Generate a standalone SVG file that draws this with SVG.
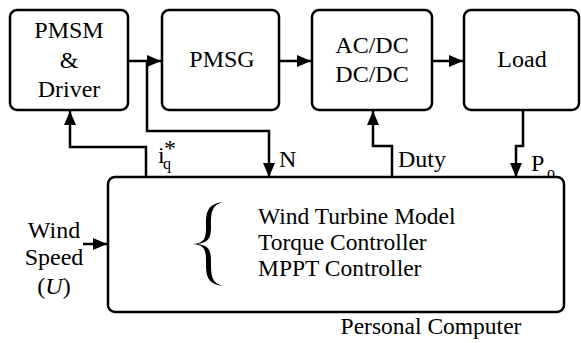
<svg xmlns="http://www.w3.org/2000/svg" width="581" height="343" viewBox="0 0 581 343">
<defs>
<marker id="ah" viewBox="0 0 14 12" refX="14" refY="6" markerWidth="14" markerHeight="12" markerUnits="userSpaceOnUse" orient="auto">
<path d="M0,0 L14,6 L0,12 Z" fill="#000"/>
</marker>
</defs>
<rect width="581" height="343" fill="#fff"/>
<g id="connectors" fill="none" stroke="#000" stroke-width="2.5">
<path d="M128,61 H161" marker-end="url(#ah)"/>
<path d="M147,61 V131 H269 V177" marker-end="url(#ah)"/>
<path d="M146,177 V147 H70 V111" marker-end="url(#ah)"/>
<path d="M279,61 H311" marker-end="url(#ah)"/>
<path d="M432,61 H463" marker-end="url(#ah)"/>
<path d="M392,177 V146 H373 V111" marker-end="url(#ah)"/>
<path d="M523,110 V146 H516 V177" marker-end="url(#ah)"/>
<path d="M83,244 H107" marker-end="url(#ah)"/>
</g>
<g id="pmsm">
<rect x="10" y="10" width="118" height="100" rx="7" fill="#fff" stroke="#000" stroke-width="2.5"/>
<text x="69" y="38" font-family="Times New Roman" font-size="24" text-anchor="middle">PMSM</text>
<text x="69" y="68" font-family="Times New Roman" font-size="24" text-anchor="middle">&amp;</text>
<text x="69" y="97" font-family="Times New Roman" font-size="24" text-anchor="middle">Driver</text>
</g>
<g id="pmsg">
<rect x="162" y="10" width="117" height="100" rx="7" fill="#fff" stroke="#000" stroke-width="2.5"/>
<text x="222" y="67" font-family="Times New Roman" font-size="24" text-anchor="middle">PMSG</text>
</g>
<g id="acdc">
<rect x="312" y="10" width="120" height="100" rx="7" fill="#fff" stroke="#000" stroke-width="2.5"/>
<text x="372" y="53" font-family="Times New Roman" font-size="24" text-anchor="middle">AC/DC</text>
<text x="372" y="82" font-family="Times New Roman" font-size="24" text-anchor="middle">DC/DC</text>
</g>
<g id="load">
<rect x="464" y="10" width="115" height="100" rx="7" fill="#fff" stroke="#000" stroke-width="2.5"/>
<text x="522" y="67" font-family="Times New Roman" font-size="24" text-anchor="middle">Load</text>
</g>
<g id="pc">
<rect x="108" y="177" width="456" height="135" rx="7" fill="#fff" stroke="#000" stroke-width="2.5"/>
<path d="M223,202 C206,204 206,214 206,226 C206,238 205,243 193,244 C205,245 206,250 206,262 C206,274 206,284 223,286 C211,283 211,274 211,262 C211,250 209,246 198,244 C209,242 211,238 211,226 C211,214 211,205 223,202 Z" fill="#000"/>
<text x="258" y="224" font-family="Times New Roman" font-size="23.5">Wind Turbine Model</text>
<text x="258" y="250" font-family="Times New Roman" font-size="23.5">Torque Controller</text>
<text x="258" y="276" font-family="Times New Roman" font-size="23.5">MPPT Controller</text>
<text x="431" y="334" font-family="Times New Roman" font-size="23.5" text-anchor="middle">Personal Computer</text>
</g>
<g id="labels">
<text x="158" y="163" font-family="Times New Roman" font-size="24">i<tspan font-size="16" x="163" y="169">q</tspan><tspan x="164" y="156">*</tspan></text>
<text x="279" y="167" font-family="Times New Roman" font-size="24">N</text>
<text x="398" y="167" font-family="Times New Roman" font-size="24">Duty</text>
<text x="531" y="171" font-family="Times New Roman" font-size="24">P<tspan font-size="16" x="547" y="178">o</tspan></text>
<text x="54" y="238" font-family="Times New Roman" font-size="24" text-anchor="middle">Wind</text>
<text x="54" y="265" font-family="Times New Roman" font-size="24" text-anchor="middle">Speed</text>
<text x="54" y="294" font-family="Times New Roman" font-size="24" text-anchor="middle">(<tspan font-style="italic">U</tspan>)</text>
</g>
</svg>
